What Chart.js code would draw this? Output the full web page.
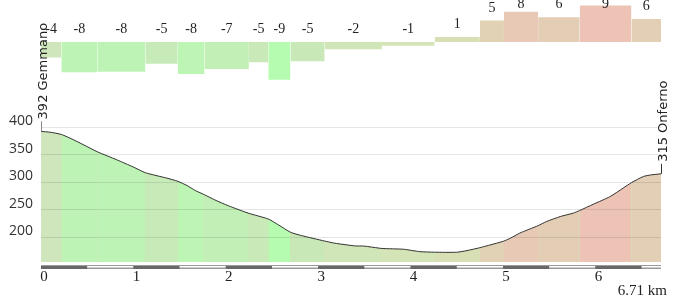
<!DOCTYPE html>
<html>
<head>
<meta charset="utf-8">
<script src="https://cdn.jsdelivr.net/npm/chart.js@4.4.1/dist/chart.umd.min.js"></script>
<style>
  html, body { margin: 0; padding: 0; background: #fff; }
  canvas { display: block; }
</style>
</head>
<body>
<canvas id="profileChart" width="687" height="301"></canvas>
<script>
// segment boundaries along the route (km)
const segStart = [0, 0.22, 0.61, 1.13, 1.48, 1.77, 2.25, 2.46, 2.70, 3.07, 3.69, 4.26, 4.75, 5.01, 5.38, 5.83, 6.39, 6.71];
// gradient of each segment (%), bar height and printed label
const gradeValues = [-3.7, -7.2, -7.1, -5.2, -7.6, -6.4, -4.8, -9.0, -4.6, -1.7, -0.9, 1.2, 5.1, 7.2, 5.9, 8.7, 5.5];
const gradeLabels = ['-4', '-8', '-8', '-5', '-8', '-7', '-5', '-9', '-5', '-2', '-1', '1', '5', '8', '6', '9', '6'];
const gradeColors = ['#cfe6bc', '#bdf3b4', '#bdf4b5', '#c7ebb8', '#bcf5b4', '#c1efb5', '#c9e9b8', '#b5fbb0', '#c9e8b8',
  '#d1e6b8', '#d4e4b6', '#d8dfb4', '#e2d2b5', '#e8c9b5', '#e4cdb5', '#edc3b5', '#e3cfb5'];

// elevation profile
const distKm = [0, 0.10, 0.22, 0.35, 0.495, 0.61, 0.82, 1.00, 1.13, 1.36, 1.48, 1.58, 1.67, 1.77, 1.88, 2.03, 2.25,
  2.46, 2.57, 2.70, 2.82, 3.07, 3.18, 3.40, 3.49, 3.69, 3.92, 4.10, 4.26, 4.50, 4.61, 4.75, 4.93, 5.01, 5.08, 5.18,
  5.38, 5.47, 5.62, 5.76, 5.83, 5.98, 6.16, 6.30, 6.39, 6.52, 6.60, 6.71];
const elevM = [392, 390.5, 386.5, 377, 364.7, 355, 340.5, 327.3, 317, 307.3, 301.5, 293.8, 284.7, 277, 267.8, 256.9, 243.3,
  233, 222.4, 209, 202.9, 193, 189.1, 184.2, 184, 179.6, 178.2, 173.8, 172.8, 172.7, 175.7, 181, 189.1, 193, 198.2, 207.3,
  221, 228.4, 237.5, 243.7, 248.5, 260, 273.8, 289.1, 299, 310.2, 313, 315];

const elevTicks = [200, 250, 300, 350, 400];
const startName = '392 Gemmano';
const endName = '315 Onferno';
const totalLabel = '6.71 km';

const gradPoints = segStart.map((x, i) => ({ x: x, y: gradeValues[Math.min(i, gradeValues.length - 1)] }));
const elevPoints = distKm.map((x, i) => ({ x: x, y: elevM[i] }));

function segIndexAt(km) {
  for (let k = 0; k < segStart.length - 1; k++) {
    if (km + 1e-6 >= segStart[k] && km + 1e-6 < segStart[k + 1]) return k;
  }
  return gradeColors.length - 1;
}

const noPad = (scale) => { scale.paddingTop = 0; scale.paddingBottom = 0; scale.paddingLeft = 0; scale.paddingRight = 0; };

const profileDecor = {
  id: 'profileDecor',
  afterDraw(chart) {
    const c = chart.ctx;
    const x = chart.scales.x, yG = chart.scales.yGrad, yE = chart.scales.yElev;
    const area = chart.chartArea;

    // gradient labels
    c.save();
    c.font = '14px "Liberation Serif", serif';
    c.fillStyle = '#222';
    c.textAlign = 'center';
    c.textBaseline = 'middle';
    for (let i = 0; i < gradeValues.length; i++) {
      const cx = x.getPixelForValue((segStart[i] + segStart[i + 1]) / 2);
      const top = Math.min(yG.getPixelForValue(0), yG.getPixelForValue(gradeValues[i]));
      c.fillText(gradeLabels[i], cx, Math.max(top - 12.5, 4));
    }
    c.restore();

    // distance stripe under the plot
    c.save();
    const maxKm = segStart[segStart.length - 1];
    c.fillStyle = '#9a9a9a';
    c.fillRect(area.left, area.bottom + 3, area.right - area.left, 4);
    for (let k = 0; k * 0.5 < maxKm; k++) {
      const l = x.getPixelForValue(k * 0.5);
      const r = x.getPixelForValue(Math.min((k + 1) * 0.5, maxKm));
      if (k % 2 === 0) {
        c.fillStyle = '#686868';
        c.fillRect(l, area.bottom + 4, r - l, 3);
      } else {
        c.fillStyle = '#ffffff';
        c.fillRect(l, area.bottom + 4, r - l, 1.5);
      }
    }
    c.restore();

    // total distance
    c.save();
    c.font = '15px "Liberation Serif", serif';
    c.fillStyle = '#222';
    c.textAlign = 'right';
    c.textBaseline = 'middle';
    c.fillText(totalLabel, 667, 291);
    c.restore();

    // start / end names
    const names = [
      { text: startName, px: x.getPixelForValue(distKm[0]), py: yE.getPixelForValue(elevM[0]), col: '#888', dx: 3 },
      { text: endName, px: x.getPixelForValue(distKm[distKm.length - 1]), py: yE.getPixelForValue(elevM[elevM.length - 1]), col: '#333', dx: 3 }
    ];
    names.forEach(n => {
      c.save();
      c.strokeStyle = n.col;
      c.lineWidth = 1;
      c.beginPath();
      c.moveTo(n.px + 0.5, n.py);
      c.lineTo(n.px + 0.5, n.py - 10);
      c.stroke();
      c.translate(n.px + n.dx, n.py - 12);
      c.rotate(-Math.PI / 2);
      c.font = '13px "DejaVu Sans", sans-serif';
      c.fillStyle = '#222';
      c.textAlign = 'left';
      c.textBaseline = 'middle';
      c.fillText(n.text, 0, 0);
      c.restore();
    });
  }
};

const ctx = document.getElementById('profileChart');
new Chart(ctx, {
  type: 'line',
  data: {
    datasets: [
      {
        label: 'Gradient',
        data: gradPoints,
        yAxisID: 'yGrad',
        stepped: 'before',
        borderColor: 'transparent',
        borderWidth: 0,
        pointRadius: 0,
        backgroundColor: gradeColors[0],
        fill: { value: 0 },
        segment: {
          backgroundColor: (s) => gradeColors[s.p0DataIndex]
        }
      },
      {
        label: 'Elevation',
        data: elevPoints,
        yAxisID: 'yElev',
        borderColor: '#333',
        borderWidth: 1,
        pointRadius: 0,
        tension: 0.2,
        backgroundColor: gradeColors[0],
        fill: 'start',
        segment: {
          backgroundColor: (s) => gradeColors[segIndexAt(s.p0.parsed.x)]
        }
      },
      {
        // plain underlay so the joins between coloured segments don't show white seams
        label: 'Underlay',
        data: elevPoints,
        yAxisID: 'yElev',
        borderColor: 'transparent',
        borderWidth: 0,
        pointRadius: 0,
        tension: 0.2,
        backgroundColor: '#d4e2b8',
        fill: 'start'
      }
    ]
  },
  options: {
    responsive: false,
    animation: false,
    devicePixelRatio: 1,
    layout: { padding: { top: 0, left: 0, right: 26, bottom: 0 } },
    plugins: {
      legend: { display: false },
      tooltip: { enabled: false }
    },
    scales: {
      x: {
        type: 'linear',
        min: 0,
        max: 6.71,
        grid: { display: false, drawTicks: false },
        border: { display: false },
        ticks: {
          stepSize: 1,
          includeBounds: false,
          padding: 6,
          labelOffset: 3,
          maxRotation: 0,
          color: '#222',
          font: { family: '"Liberation Serif", serif', size: 15 }
        },
        afterFit: (scale) => { scale.height = 39; noPad(scale); }
      },
      yElev: {
        type: 'linear',
        position: 'left',
        stack: 'profile',
        stackWeight: 135,
        min: 155,
        max: 400,
        grid: { color: 'rgba(0,0,0,0.1)', drawTicks: false, z: 1 },
        border: { display: false },
        ticks: {
          stepSize: 50,
          autoSkip: false,
          includeBounds: false,
          padding: 8,
          labelOffset: -6,
          color: '#333',
          font: { family: '"Open Sans", sans-serif', size: 14 },
          callback: (v) => elevTicks.includes(v) ? v : ''
        },
        afterFit: (scale) => { scale.width = 41; noPad(scale); }
      },
      yGrad: {
        type: 'linear',
        position: 'left',
        stack: 'profile',
        stackWeight: 127,
        min: -20.24,
        max: 10,
        grid: { display: false, drawTicks: false },
        border: { display: false },
        ticks: { display: false },
        afterFit: (scale) => { scale.width = 41; noPad(scale); }
      }
    }
  },
  plugins: [profileDecor]
});
</script>
</body>
</html>
